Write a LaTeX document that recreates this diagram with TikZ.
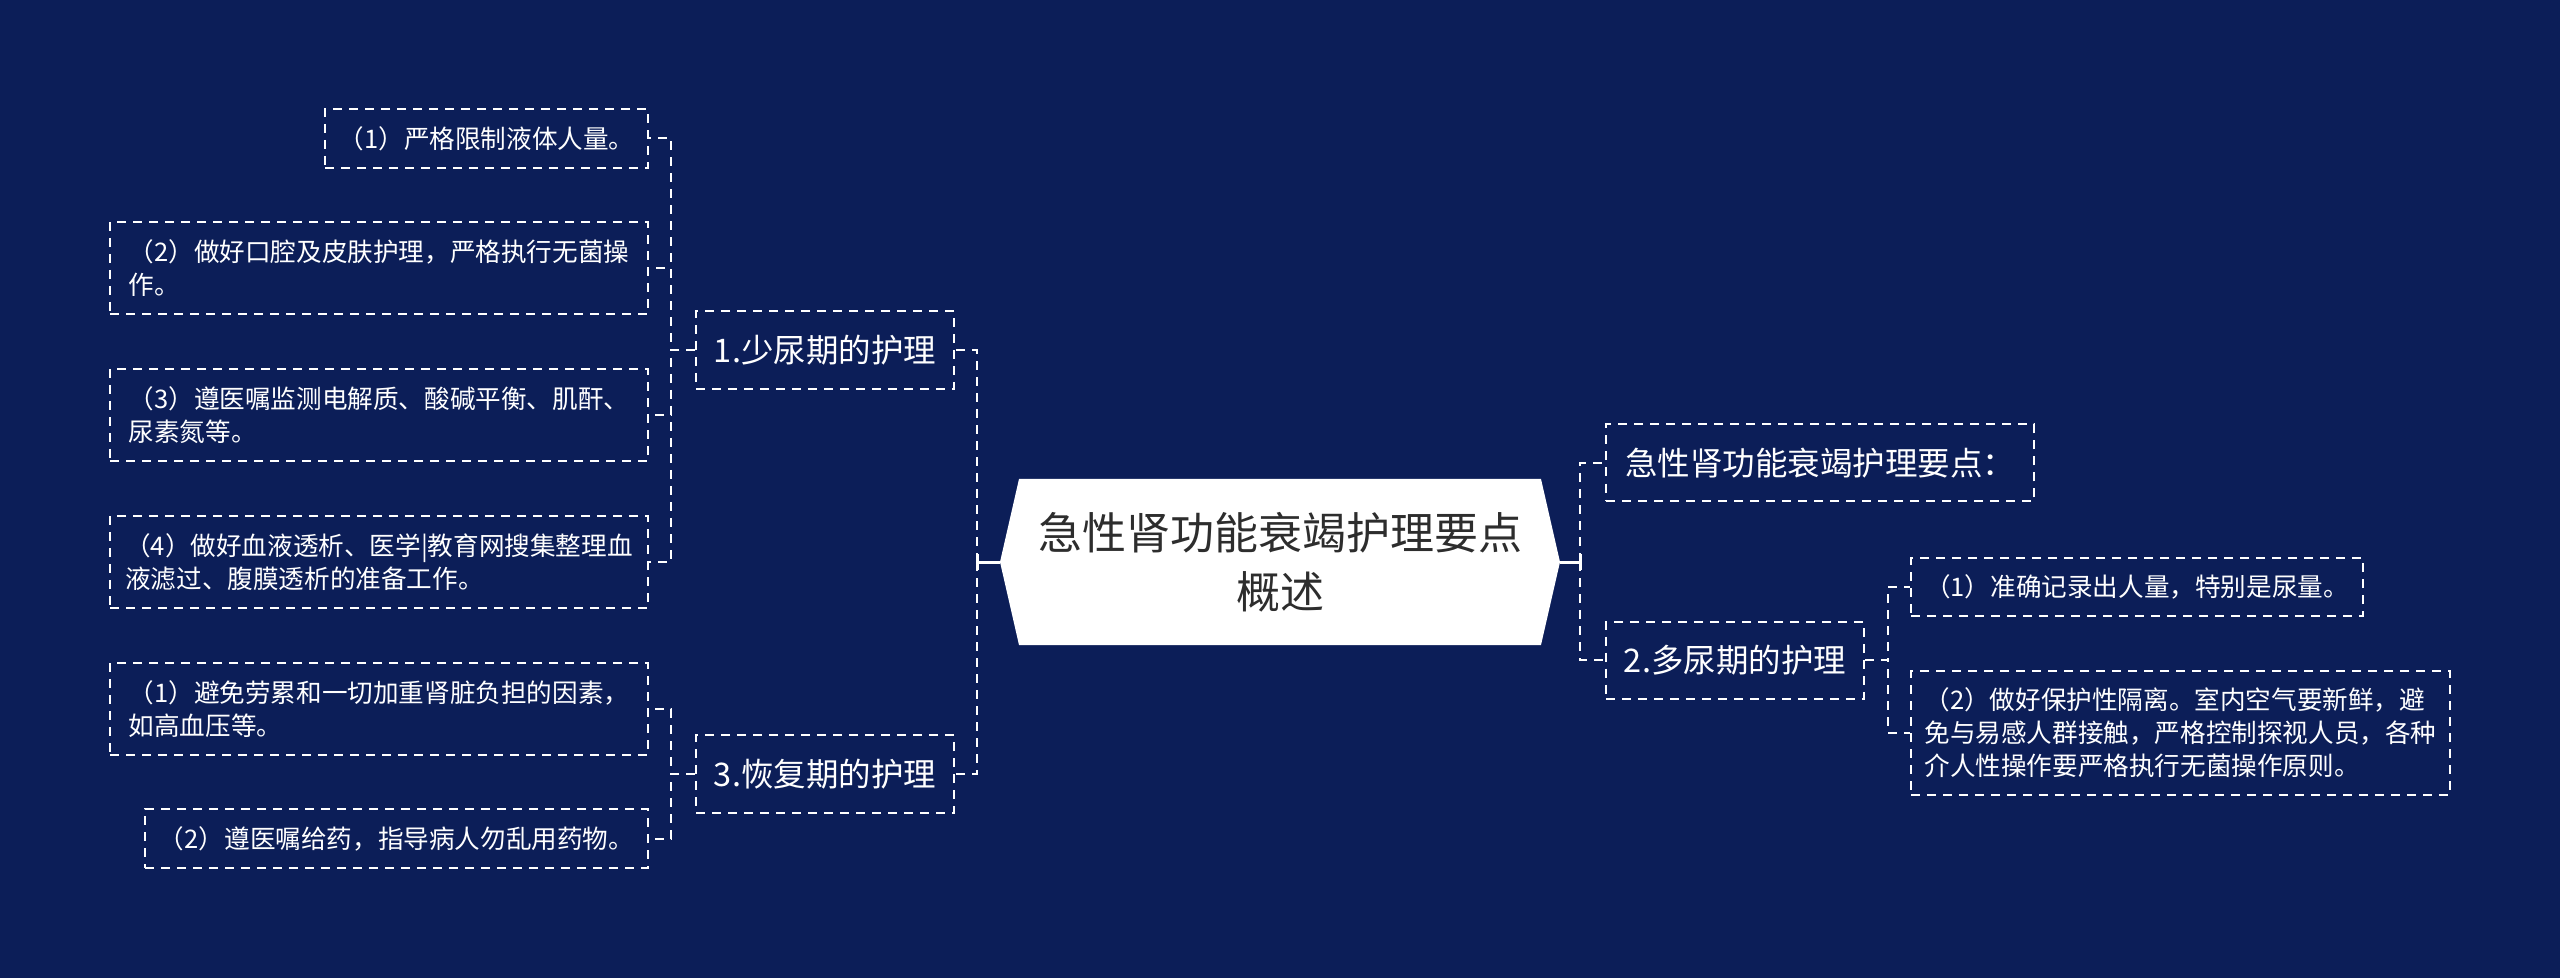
\documentclass[tikz,border=0pt]{standalone}
\usepackage{fontspec}
\setmainfont{Noto Sans CJK SC}
\usetikzlibrary{calc}
\definecolor{bg}{RGB}{12,30,88}
\definecolor{roottext}{RGB}{45,45,45}
\begin{document}
\begin{tikzpicture}[x=0.5pt,y=-0.5pt,
  dline/.style={draw=white, line width=1pt, dash pattern=on 4.5pt off 3.5pt},
  leaf/.style={dline, inner sep=0pt, text=white, align=left, font=\fontsize{12.8pt}{16.5pt}\selectfont},
  mid/.style={dline, inner sep=0pt, text=white, font=\fontsize{16.25pt}{20pt}\selectfont},
  conn/.style={dline},
  rootline/.style={draw=white, line width=1.5pt}]
\fill[bg] (0,0) rectangle (2560,978);
\useasboundingbox (0,0) rectangle (2560,978);

% root
\coordinate (rootL) at (1000,562);
\coordinate (rootR) at (1560,562);
\fill[white] (rootL) -- (1019,479) -- (1541,479) -- (rootR) -- (1541,645) -- (1019,645) -- cycle;
\node[inner sep=0pt, text=roottext, align=center, font=\fontsize{22pt}{29.5pt}\selectfont] (root) at (1280,562) {急性肾功能衰竭护理要点\\概述};

% mid level
\node[mid, minimum width=129pt, minimum height=39pt] (n1) at (825,350) {1.少尿期的护理};
\node[mid, minimum width=129pt, minimum height=39pt] (n3) at (825,774) {3.恢复期的护理};
\node[mid, minimum width=214pt, minimum height=38.5pt] (r1) at (1820,463) {急性肾功能衰竭护理要点：};
\node[mid, minimum width=129pt, minimum height=38.5pt] (r2) at (1735,660) {2.多尿期的护理};

% left leaves
\node[leaf, minimum width=161.5pt, minimum height=29.5pt] (c1) at (486.5,138.5) {（1）严格限制液体人量。};
\node[leaf, minimum width=269pt, minimum height=46pt] (c2) at (379,268) {（2）做好口腔及皮肤护理，严格执行无菌操\\作。};
\node[leaf, minimum width=269pt, minimum height=46pt] (c3) at (379,415) {（3）遵医嘱监测电解质、酸碱平衡、肌酐、\\尿素氮等。};
\node[leaf, minimum width=269pt, minimum height=46pt] (c4) at (379,562) {（4）做好血液透析、医学|教育网搜集整理血\\液滤过、腹膜透析的准备工作。};
\node[leaf, minimum width=269pt, minimum height=46pt] (c5) at (379,709) {（1）避免劳累和一切加重肾脏负担的因素，\\如高血压等。};
\node[leaf, minimum width=251.5pt, minimum height=29.5pt] (c6) at (396.5,838.5) {（2）遵医嘱给药，指导病人勿乱用药物。};

% right leaves
\node[leaf, minimum width=226pt, minimum height=29pt] (d1) at (2137,587) {（1）准确记录出人量，特别是尿量。};
\node[leaf, minimum width=269.5pt, minimum height=62pt] (d2) at (2180.5,733) {（2）做好保护性隔离。室内空气要新鲜，避\\免与易感人群接触，严格控制探视人员，各种\\介人性操作要严格执行无菌操作原则。};

% connectors from root
\coordinate (jL) at (977,562);
\coordinate (jR) at (1580,562);
\draw[rootline] (rootL) -- (jL);
\draw[rootline] (rootR) -- (jR);
\draw[rootline] ($(jL)+(0,-8)$) -- ($(jL)+(0,8)$);
\draw[rootline] ($(jR)+(0,-8)$) -- ($(jR)+(0,8)$);
\draw[conn] (jL) |- (n1.east);
\draw[conn] (jL) |- (n3.east);
\draw[conn] (jR) |- (r1.west);
\draw[conn] (jR) |- (r2.west);

% connectors to leaves
\foreach \c in {c1,c2,c3,c4}{\draw[conn] (n1.west) -- ++(-24,0) |- (\c.east);}
\foreach \c in {c5,c6}{\draw[conn] (n3.west) -- ++(-24,0) |- (\c.east);}
\foreach \c in {d1,d2}{\draw[conn] (r2.east) -- ++(23,0) |- (\c.west);}
\end{tikzpicture}
\end{document}
